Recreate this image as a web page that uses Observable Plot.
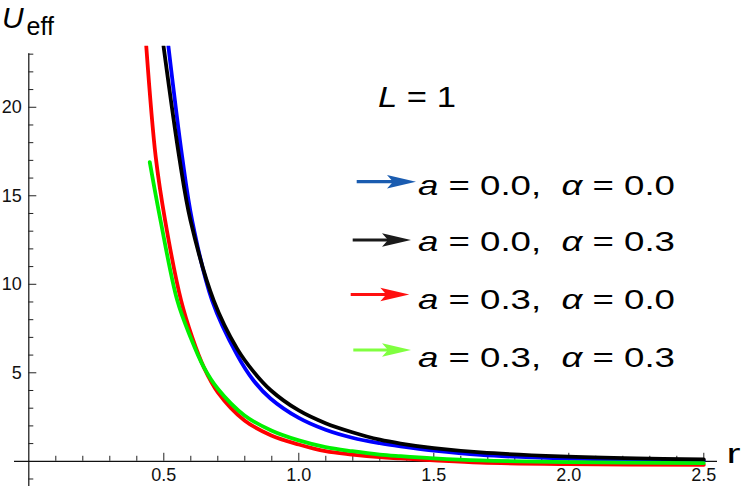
<!DOCTYPE html>
<html><head><meta charset="utf-8">
<script src="https://cdn.jsdelivr.net/npm/d3@7"></script>
<script src="https://cdn.jsdelivr.net/npm/@observablehq/plot@0.6"></script>
<style>
body{margin:0;background:#fff;}
#wrap{position:relative;width:747px;height:486px;font-family:"Liberation Sans",Arial,sans-serif;}
#wrap svg{position:absolute;left:0;top:0;}
</style></head><body><div id="wrap"></div>
<script>
// ---- data ----
const rBlue  = [0.517, 0.568, 0.605, 0.679, 0.772, 0.833, 0.895, 1.000, 1.099, 1.198, 1.300, 1.377, 1.500, 1.673, 1.969, 2.5];
const uBlue  = [23.45, 17.2, 13.6, 9.08, 6.00, 4.55, 3.55, 2.45, 1.78, 1.33, 1.02, 0.84, 0.60, 0.36, 0.17, 0.04];
const rBlack = [0.499, 0.559, 0.599, 0.685, 0.772, 0.833, 0.895, 1.000, 1.099, 1.198, 1.300, 1.377, 1.500, 1.673, 1.969, 2.25, 2.5];
const uBlack = [23.45, 17.0, 13.6, 9.08, 6.35, 5.05, 4.03, 2.87, 2.15, 1.64, 1.22, 1.00, 0.74, 0.50, 0.28, 0.16, 0.10];
const rRed   = [0.435, 0.470, 0.505, 0.564, 0.605, 0.648, 0.700, 0.799, 0.898, 1.000, 1.099, 1.198, 1.300, 1.377, 1.500, 1.673, 2.0, 2.5];
const uRed   = [23.45, 17.2, 13.6, 9.08, 7.01, 5.32, 3.90, 2.31, 1.46, 0.95, 0.57, 0.38, 0.23, 0.16, 0.05, -0.08, -0.16, -0.2];
const rGreen = [0.448, 0.488, 0.550, 0.599, 0.648, 0.700, 0.799, 0.898, 1.000, 1.099, 1.198, 1.300, 1.377, 1.500, 1.673, 2.0, 2.5];
const uGreen = [16.9, 13.6, 9.08, 7.01, 5.32, 4.10, 2.59, 1.74, 1.18, 0.80, 0.57, 0.38, 0.29, 0.17, 0.05, -0.05, -0.1];

const aValues     = ["0.0", "0.0", "0.3", "0.3"];
const alphaValues = ["0.0", "0.3", "0.0", "0.3"];
const lineColors  = ["#0000ff", "#000000", "#ff0000", "#00f000"];
const arrowColors = ["#1a5cb0", "#1a1a1a", "#ff1010", "#80ff40"];
const seriesR = [rBlue, rBlack, rRed, rGreen];
const seriesU = [uBlue, uBlack, uRed, uGreen];

const xMajorTicks = [0.5, 1.0, 1.5, 2.0, 2.5];
const xMinorTicks = [0.1,0.2,0.3,0.4,0.6,0.7,0.8,0.9,1.1,1.2,1.3,1.4,1.6,1.7,1.8,1.9,2.1,2.2,2.3,2.4];
const yMajorTicks = [5, 10, 15, 20];
const yMinorTicks = [-1,1,2,3,4,6,7,8,9,11,12,13,14,16,17,18,19,21,22,23];

const xDom = [-0.05296, 2.5507];
const yDom = [-1.424, 23.45];

const lineMarks = seriesR.map((rs, k) =>
  Plot.line(rs.map((r, i) => ({r, u: seriesU[k][i]})), {
    x: "r", y: "u", stroke: lineColors[k], strokeWidth: 3.8,
    curve: "catmull-rom", clip: true
  })
);

const chart = Plot.plot({
  width: 747, height: 486,
  marginLeft: 14, marginRight: 30, marginTop: 45.7, marginBottom: 0,
  x: {domain: xDom, axis: null},
  y: {domain: yDom, axis: null},
  style: {fontFamily: "Liberation Sans, Arial, sans-serif", fontSize: "18px", background: "transparent", overflow: "visible", color: "#000"},
  marks: [
    Plot.ruleY([0], {x1: xDom[0], x2: xDom[1], stroke: "#111", strokeWidth: 1.2}),
    Plot.ruleX([0], {y1: yDom[0], y2: 23.03, stroke: "#111", strokeWidth: 1.2}),
    Plot.ruleX(xMinorTicks, {x: d => d, y1: () => 0, y2: () => 0, insetBottom: 5, stroke: "#222"}),
    Plot.ruleX(xMajorTicks, {x: d => d, y1: () => 0, y2: () => 0, insetBottom: 8, stroke: "#222"}),
    Plot.ruleY(yMinorTicks, {y: d => d, x1: () => 0, x2: () => 0, insetRight: -5, stroke: "#222"}),
    Plot.ruleY(yMajorTicks, {y: d => d, x1: () => 0, x2: () => 0, insetRight: -8, stroke: "#222"}),
    Plot.text(xMajorTicks, {x: d => d, y: () => 0, text: d => d.toFixed(1), dy: 14, fontSize: 18, fill: "#111"}),
    Plot.text(yMajorTicks, {x: () => 0, y: d => d, text: d => String(d), dx: -7, textAnchor: "end", fontSize: 18, fill: "#111"}),
    ...lineMarks
  ]
});

const wrap = document.getElementById("wrap");
wrap.appendChild(chart);

// ---- overlay: axis titles and legend ----
const ov = d3.create("svg").attr("width", 747).attr("height", 486)
  .style("font-family", "Liberation Sans, Arial, sans-serif").style("pointer-events", "none");

// U_eff
ov.append("text").attr("x", 2).attr("y", 28).attr("font-size", 30).attr("font-style", "italic").text("U");
ov.append("text").attr("x", 26.5).attr("y", 35).attr("font-size", 25).text("eff");
// r
ov.append("text").attr("x", 726.5).attr("y", 463).attr("font-size", 27)
  .attr("textLength", 14).attr("lengthAdjust", "spacingAndGlyphs").text("r");
// L = 1
const tL = ov.append("text").attr("x", 378).attr("y", 106.5).attr("font-size", 30)
  .attr("textLength", 78).attr("lengthAdjust", "spacingAndGlyphs").style("white-space", "pre");
tL.append("tspan").attr("font-style", "italic").text("L");
tL.append("tspan").text(" = 1");

const baselines = [195, 251, 309, 367];
const arrowY = [181.7, 240, 294.5, 350];
const arrowX0 = [356.7, 352.7, 350.7, 353.3];
const arrowX1 = [416, 411, 409.3, 411];
for (let k = 0; k < 4; k++) {
  const y = arrowY[k], x0 = arrowX0[k], x1 = arrowX1[k];
  ov.append("line").attr("x1", x0).attr("y1", y).attr("x2", x1 - 20).attr("y2", y)
    .attr("stroke", arrowColors[k]).attr("stroke-width", 3.2);
  ov.append("path").attr("d", `M${x1},${y} L${x1 - 29},${y - 6.8} L${x1 - 23},${y} L${x1 - 29},${y + 6.8} Z`)
    .attr("fill", arrowColors[k]);
  const t = ov.append("text").attr("x", 418).attr("y", baselines[k]).attr("font-size", 28)
    .attr("textLength", 257).attr("lengthAdjust", "spacingAndGlyphs").style("white-space", "pre");
  t.append("tspan").attr("font-style", "italic").text("a");
  t.append("tspan").text(` = ${aValues[k]},  `);
  t.append("tspan").attr("font-style", "italic").text("α");
  t.append("tspan").text(` = ${alphaValues[k]}`);
}
wrap.appendChild(ov.node());
</script>
</body></html>
